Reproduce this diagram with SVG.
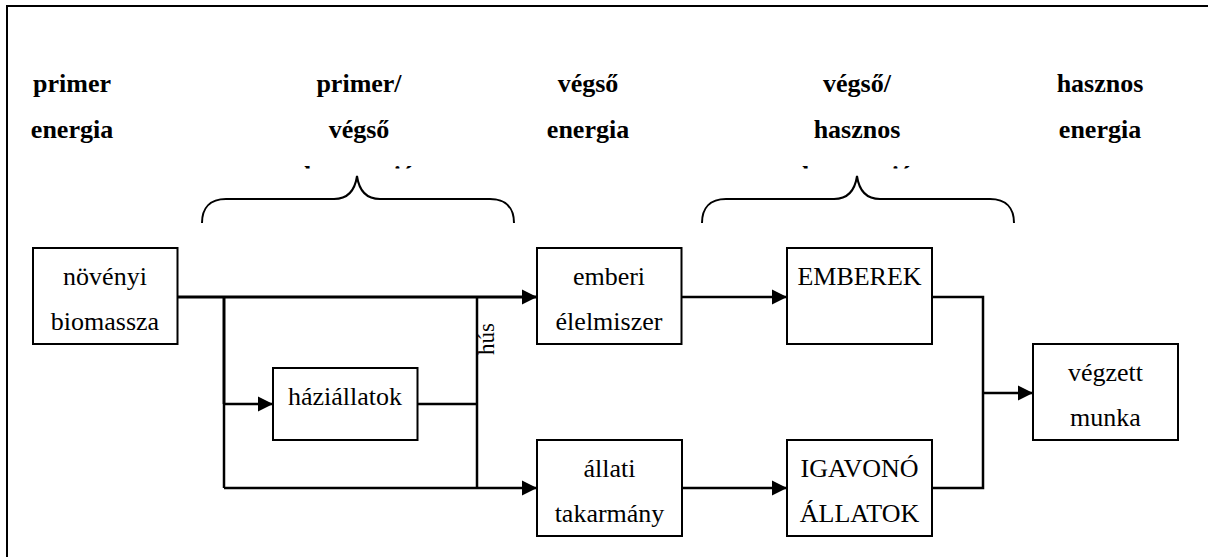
<svg xmlns="http://www.w3.org/2000/svg" width="1208" height="557" viewBox="0 0 1208 557">
<style>
text{font-family:'Liberation Serif','DejaVu Serif','Times New Roman',Times,serif;fill:#000;text-anchor:middle}
.hd{font-size:26px;font-weight:bold}
.tx{font-size:26px}
.box{fill:#fff;stroke:#000;stroke-width:2}
.ln{fill:none;stroke:#000;stroke-width:2.5}
.thk{fill:none;stroke:#000;stroke-width:3}
.br{fill:none;stroke:#000;stroke-width:2}
</style>
<defs>
<marker id="ah" markerUnits="userSpaceOnUse" markerWidth="16" markerHeight="16" viewBox="0 0 16 16" refX="15" refY="8" orient="auto">
<path d="M0,0.5 L15,8 L0,15.5 Z" fill="#000"/>
</marker>
<clipPath id="cut"><rect x="0" y="0" width="1208" height="168.5"/></clipPath>
</defs>
<rect width="1208" height="557" fill="#fff"/>
<path d="M7,557 V6 H1208" fill="none" stroke="#000" stroke-width="2"/>
<g id="headers">
<text class="hd" x="72" y="92" font-family="Liberation Serif, serif">primer</text>
<text class="hd" x="72" y="138" font-family="Liberation Serif, serif">energia</text>
<text class="hd" x="359" y="92" font-family="Liberation Serif, serif">primer/</text>
<text class="hd" x="359" y="138" font-family="Liberation Serif, serif">végső</text>
<text class="hd" x="359" y="184" clip-path="url(#cut)" font-family="Liberation Serif, serif">konverzió</text>
<text class="hd" x="588" y="92" font-family="Liberation Serif, serif">végső</text>
<text class="hd" x="588" y="138" font-family="Liberation Serif, serif">energia</text>
<text class="hd" x="857" y="92" font-family="Liberation Serif, serif">végső/</text>
<text class="hd" x="857" y="138" font-family="Liberation Serif, serif">hasznos</text>
<text class="hd" x="857" y="184" clip-path="url(#cut)" font-family="Liberation Serif, serif">konverzió</text>
<text class="hd" x="1100" y="92" font-family="Liberation Serif, serif">hasznos</text>
<text class="hd" x="1100" y="138" font-family="Liberation Serif, serif">energia</text>
</g>
<g id="braces">
<path class="br" d="M202,223 C202,208 210,199 226,199 L334,199 C348,199 355,190 357,176 C359,190 366,199 380,199 L490,199 C506,199 514,208 514,223"/>
<path class="br" d="M702,223 C702,208 710,199 726,199 L834,199 C848,199 855,190 857,176 C859,190 866,199 880,199 L990,199 C1006,199 1014,208 1014,223"/>
</g>
<g id="connectors">
<path class="thk" d="M177.5,297 H537" marker-end="url(#ah)"/>
<path class="thk" d="M224,297 V404"/>
<path class="ln" d="M224,404 V488"/>
<path class="ln" d="M224,404 H273" marker-end="url(#ah)"/>
<path class="ln" d="M224,488 H537" marker-end="url(#ah)"/>
<path class="ln" d="M417.5,404 H477"/>
<path class="ln" d="M477,297 V488"/>
<path class="ln" d="M681.5,297 H787" marker-end="url(#ah)"/>
<path class="ln" d="M682,488 H787" marker-end="url(#ah)"/>
<path class="ln" d="M932,297 H983 V488 H932"/>
<path class="ln" d="M983,393 H1033" marker-end="url(#ah)"/>
<text class="tx" style="font-size:23px" font-family="Liberation Serif, serif" transform="translate(494,339) rotate(-90)">hús</text>
</g>
<g id="novenyi">
<rect class="box" x="33" y="248" width="144.5" height="96"/>
<text class="tx" x="105" y="285" font-family="Liberation Serif, serif">növényi</text>
<text class="tx" x="105" y="330" font-family="Liberation Serif, serif">biomassza</text>
</g>
<g id="haziallatok">
<rect class="box" x="273" y="368" width="144.5" height="72"/>
<text class="tx" x="345" y="405" font-family="Liberation Serif, serif">háziállatok</text>
</g>
<g id="emberi">
<rect class="box" x="537" y="248" width="144.5" height="96"/>
<text class="tx" x="609" y="285" font-family="Liberation Serif, serif">emberi</text>
<text class="tx" x="609" y="330" font-family="Liberation Serif, serif">élelmiszer</text>
</g>
<g id="allati">
<rect class="box" x="537" y="440" width="145" height="96"/>
<text class="tx" x="609.5" y="477" font-family="Liberation Serif, serif">állati</text>
<text class="tx" x="609.5" y="522" font-family="Liberation Serif, serif">takarmány</text>
</g>
<g id="emberek">
<rect class="box" x="787" y="248" width="145" height="96"/>
<text class="tx" x="859.5" y="285" font-family="Liberation Serif, serif">EMBEREK</text>
</g>
<g id="igavono">
<rect class="box" x="787" y="440" width="145" height="96"/>
<text class="tx" x="859.5" y="477" font-family="Liberation Serif, serif">IGAVONÓ</text>
<text class="tx" x="859.5" y="522" font-family="Liberation Serif, serif">ÁLLATOK</text>
</g>
<g id="munka">
<rect class="box" x="1033" y="344" width="145" height="96"/>
<text class="tx" x="1105.5" y="381" font-family="Liberation Serif, serif">végzett</text>
<text class="tx" x="1105.5" y="426" font-family="Liberation Serif, serif">munka</text>
</g>
</svg>
